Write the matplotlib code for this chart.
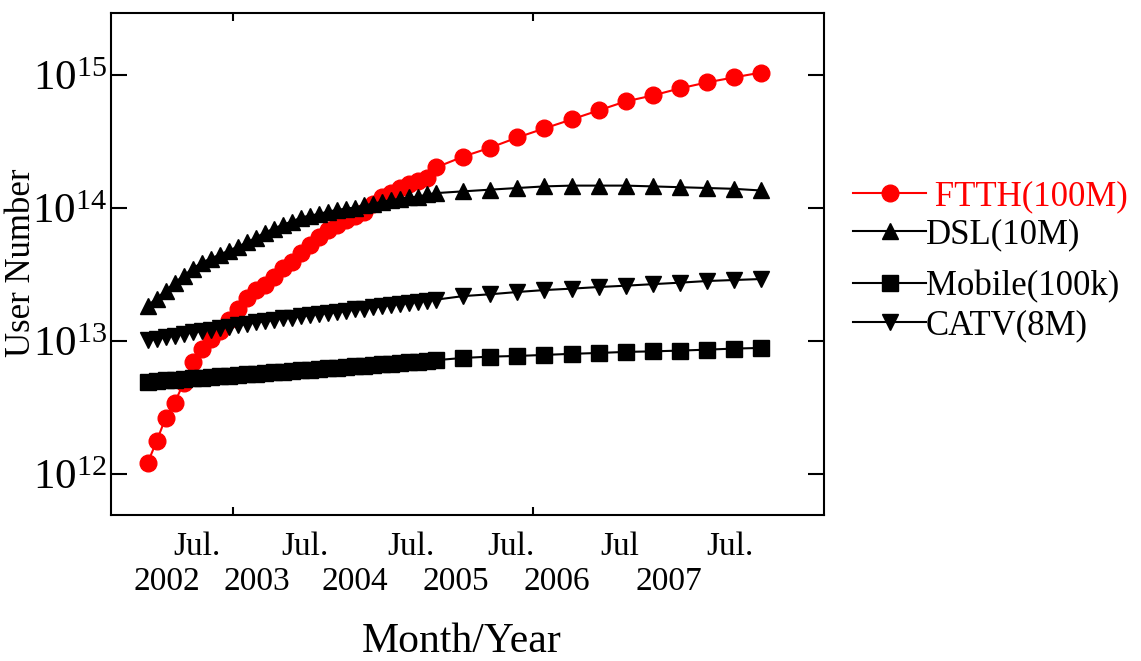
import matplotlib
matplotlib.use("Agg")
import matplotlib.pyplot as plt
from matplotlib.ticker import FixedLocator, NullLocator, FixedFormatter

plt.rcParams['font.family'] = ['Liberation Serif', 'DejaVu Serif']
plt.rcParams['mathtext.fontset'] = 'custom'
plt.rcParams['mathtext.rm'] = 'Liberation Serif'
plt.rcParams['mathtext.it'] = 'Liberation Serif:italic'

# ---- data: month index (0 = Jan 2002), monthly then quarterly ----
months = [0, 1, 2, 3, 4, 5, 6, 7, 8, 9, 10, 11, 12, 13, 14, 15, 16,
          17, 18, 19, 20, 21, 22, 23, 24, 25, 26, 27, 28, 29, 30, 31, 32,
          35, 38, 41, 44, 47, 50, 53, 56, 59, 62, 65, 68]

ftth = [1.21e12, 1.77e12, 2.65e12, 3.44e12, 4.86e12, 7.00e12, 8.77e12,
        1.03e13, 1.20e13, 1.45e13, 1.75e13, 2.12e13, 2.44e13, 2.66e13,
        3.05e13, 3.57e13, 3.96e13, 4.63e13, 5.32e13, 6.12e13, 6.90e13,
        7.53e13, 8.22e13, 8.81e13, 9.44e13, 1.07e14, 1.21e14, 1.31e14,
        1.43e14, 1.51e14, 1.59e14, 1.70e14, 2.03e14,
        2.45e14, 2.86e14, 3.41e14, 3.99e14, 4.66e14, 5.45e14, 6.37e14,
        7.06e14, 7.98e14, 8.85e14, 9.66e14, 1.05e15]

dsl = [1.85e13, 2.09e13, 2.40e13, 2.75e13, 3.11e13, 3.51e13, 3.90e13,
       4.18e13, 4.48e13, 4.80e13, 5.14e13, 5.52e13, 6.01e13, 6.56e13,
       7.03e13, 7.53e13, 7.94e13, 8.51e13, 8.81e13, 9.04e13, 9.44e13,
       9.69e13, 9.95e13, 1.01e14, 1.05e14, 1.08e14, 1.12e14, 1.15e14,
       1.18e14, 1.21e14, 1.22e14, 1.27e14, 1.30e14,
       1.34e14, 1.38e14, 1.42e14, 1.46e14, 1.48e14, 1.48e14, 1.48e14,
       1.46e14, 1.44e14, 1.42e14, 1.40e14, 1.36e14]

mobile = [4.94e12, 5.03e12, 5.07e12, 5.12e12, 5.21e12, 5.25e12, 5.30e12,
          5.39e12, 5.43e12, 5.48e12, 5.58e12, 5.63e12, 5.68e12, 5.78e12,
          5.83e12, 5.88e12, 5.98e12, 6.04e12, 6.08e12, 6.19e12, 6.25e12,
          6.31e12, 6.41e12, 6.47e12, 6.53e12, 6.64e12, 6.70e12, 6.76e12,
          6.88e12, 6.94e12, 7.00e12, 7.11e12, 7.18e12,
          7.46e12, 7.63e12, 7.72e12, 7.86e12, 8.01e12, 8.13e12, 8.28e12,
          8.36e12, 8.47e12, 8.61e12, 8.77e12, 8.87e12]

catv = [1.01e13, 1.04e13, 1.07e13, 1.10e13, 1.13e13, 1.16e13, 1.19e13,
        1.22e13, 1.25e13, 1.28e13, 1.32e13, 1.34e13, 1.38e13, 1.41e13,
        1.44e13, 1.48e13, 1.50e13, 1.53e13, 1.57e13, 1.60e13, 1.62e13,
        1.65e13, 1.68e13, 1.73e13, 1.75e13, 1.79e13, 1.82e13, 1.87e13,
        1.90e13, 1.93e13, 1.98e13, 2.01e13, 2.05e13,
        2.18e13, 2.25e13, 2.34e13, 2.42e13, 2.48e13, 2.55e13, 2.61e13,
        2.68e13, 2.75e13, 2.83e13, 2.88e13, 2.93e13]

# manual "tick" labels under the axis (month positions)
jul_pos = [5.5, 17.4, 29.2, 40.3, 52.4, 64.6]
jul_labels = ["Jul.", "Jul.", "Jul.", "Jul.", "Jul", "Jul."]
year_pos = [2.1, 12.1, 23.0, 34.2, 45.4, 57.8]
year_labels = ["2002", "2003", "2004", "2005", "2006", "2007"]

legend_labels = [" FTTH(100M)", "DSL(10M)", "Mobile(100k)", "CATV(8M)"]

# ---- figure ----
fig = plt.figure(figsize=(11.41, 6.61), dpi=100)
ax = fig.add_axes([111 / 1141, 1 - 515 / 661, (824 - 111) / 1141, (515 - 13) / 661])

ms = 12
lw = 1.5
ax.plot(months, ftth, color='red', marker='o', ms=ms, lw=lw, mec='red')
ax.plot(months, dsl, color='black', marker='^', ms=ms, lw=lw)
ax.plot(months, mobile, color='black', marker='s', ms=ms - 1, lw=lw)
ax.plot(months, catv, color='black', marker='v', ms=ms, lw=lw)

ax.set_yscale('log')
ax.set_ylim(10 ** 11.69, 10 ** 15.47)
ax.set_xlim(-4.07, 75.0)

ax.yaxis.set_major_locator(FixedLocator([1e12, 1e13, 1e14, 1e15]))
ax.yaxis.set_major_formatter(FixedFormatter([r'$10^{12}$', r'$10^{13}$', r'$10^{14}$', r'$10^{15}$']))
ax.yaxis.set_minor_locator(NullLocator())
ax.xaxis.set_major_locator(FixedLocator([9.46, 42.7]))
ax.xaxis.set_minor_locator(NullLocator())
ax.set_xticklabels([])

ax.tick_params(axis='y', which='major', direction='in', length=11.5, width=1.5,
               labelsize=31, pad=3, left=True, right=True)
ax.tick_params(axis='x', which='major', direction='in', length=6, width=1.5,
               top=True, bottom=True, labelbottom=False)
for sp in ax.spines.values():
    sp.set_linewidth(1.5)

ax.set_ylabel("User Number", fontsize=25)
ax.yaxis.set_label_coords(-0.103, 0.503)

for p, t in zip(jul_pos, jul_labels):
    ax.text(p, -0.080, t, transform=ax.get_xaxis_transform(), ha='center',
            va='baseline', fontsize=24)
for p, t in zip(year_pos, year_labels):
    ax.text(p, -0.149, t, transform=ax.get_xaxis_transform(), ha='center',
            va='baseline', fontsize=24)
fig.text(462 / 1141, 1 - 652 / 661, "Month/Year", ha='center', va='baseline', fontsize=30)

# ---- manual legend (pixel coordinates on an overlay axes) ----
lax = fig.add_axes([0, 0, 1, 1])
lax.set_xlim(0, 1141)
lax.set_ylim(661, 0)
lax.axis('off')
leg_y = [193, 231, 283, 322]
leg_style = [('red', 'o'), ('black', '^'), ('black', 's'), ('black', 'v')]
for yy, (c, m), lab in zip(leg_y, leg_style, legend_labels):
    lax.plot([853, 926], [yy, yy], color=c, lw=lw)
    lax.plot([890], [yy], color=c, marker=m, ms=ms if m != 's' else ms - 1)
    lax.text(926, yy, lab, color=c, fontsize=25, va='center_baseline', ha='left')

fig.savefig("out.png", dpi=100)
